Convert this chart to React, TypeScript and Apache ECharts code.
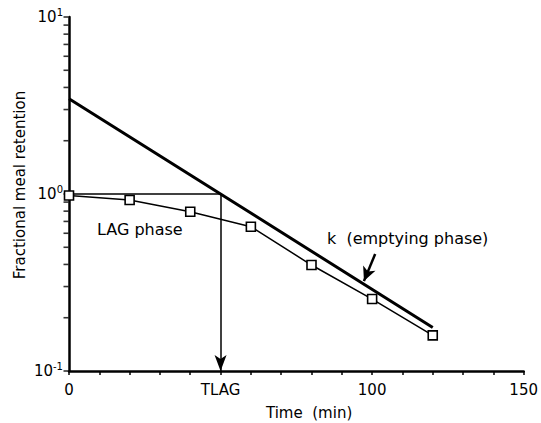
import React, { useEffect, useRef } from "react";
import * as echarts from "echarts";

const timeMin = [0, 20, 40, 60, 80, 100, 120];
const retention = [0.98, 0.925, 0.794, 0.653, 0.397, 0.255, 0.159];
const fitTime = [0, 50, 120];
const fitRetention = [3.45, 1.0, 0.176];
const tlag = 50;
const lagLineTime = [0, tlag];
const lagLineValue = [1, 1];
const xTickValues = [0, 10, 20, 30, 40, 50, 60, 70, 80, 90, 100, 110, 120, 130, 140, 150];
const xLabelValues = [0, 50, 100, 150];
const xLabelTexts = ["0", "TLAG", "100", "150"];
const yTickValues = [
  0.1, 0.2, 0.3, 0.4, 0.5, 0.6, 0.7, 0.8, 0.9,
  1, 2, 3, 4, 5, 6, 7, 8, 9, 10,
];
const yLabelValues = [0.1, 1, 10];
const yLabelExponents = ["-1", "0", "1"];
const kArrowFrom = [101, 0.458];
const kArrowTo = [97.3, 0.322];

const FONT = "DejaVu Sans";

export default function App() {
  const ref = useRef<HTMLDivElement>(null);
  useEffect(() => {
    if (!ref.current) return;
    const chart = echarts.init(ref.current, undefined, { renderer: "svg" });
    chart.setOption({
      animation: false,
      backgroundColor: "#ffffff",
      textStyle: { fontFamily: FONT, color: "#000" },
      grid: { left: 69, right: 14, top: 17, bottom: 52, containLabel: false },
      xAxis: {
        type: "value",
        min: 0,
        max: 150,
        interval: 10,
        axisLine: { show: true, lineStyle: { color: "#000", width: 2.5 } },
        axisTick: {
          show: true,
          inside: false,
          length: 4,
          lineStyle: { color: "#000", width: 1.5 },
          customValues: xTickValues,
        },
        splitLine: { show: false },
        axisLabel: {
          customValues: xLabelValues,
          formatter: (v: number) => {
            const i = xLabelValues.indexOf(v);
            return i >= 0 ? xLabelTexts[i] : "";
          },
          color: "#000",
          fontFamily: FONT,
          fontSize: 15,
          margin: 11,
        },
      },
      yAxis: {
        type: "log",
        logBase: 10,
        min: 0.1,
        max: 10,
        axisLine: { show: true, lineStyle: { color: "#000", width: 2.5 } },
        axisTick: { show: false },
        splitLine: { show: false },
        axisLabel: {
          formatter: (v: number) => {
            let idx = -1;
            yLabelValues.forEach((lv, i) => {
              if (Math.abs(lv - v) / lv < 1e-6) idx = i;
            });
            return idx >= 0 ? `{b|10}{s|${yLabelExponents[idx]}}` : "";
          },
          margin: 6,
          rich: {
            b: { fontSize: 15, fontFamily: FONT, color: "#000" },
            s: { fontSize: 10, fontFamily: FONT, color: "#000", padding: [0, 0, 10, 0] },
          },
        },
      },
      series: [
        {
          type: "scatter",
          data: yTickValues.map((v) => [0, v]),
          symbol: "rect",
          symbolSize: [5, 1.6],
          symbolOffset: [-3, 0],
          itemStyle: { color: "#000" },
          clip: false,
          silent: true,
          z: 1,
        },
        {
          type: "line",
          data: fitTime.map((t, i) => [t, fitRetention[i]]),
          symbol: "none",
          lineStyle: { color: "#000", width: 3 },
          z: 3,
        },
        {
          type: "line",
          data: lagLineTime.map((t, i) => [t, lagLineValue[i]]),
          symbol: "none",
          lineStyle: { color: "#000", width: 1.5 },
          markLine: {
            silent: true,
            symbol: ["none", "arrow"],
            symbolSize: [9, 16],
            label: { show: false },
            lineStyle: { color: "#000", width: 1.5, type: "solid" },
            data: [[{ coord: [tlag, 1] }, { coord: [tlag, 0.1] }]],
          },
          z: 2,
        },
        {
          type: "line",
          data: timeMin.map((t, i) => [t, retention[i]]),
          symbol: "rect",
          symbolSize: 9,
          itemStyle: { color: "#fff", borderColor: "#000", borderWidth: 1.6 },
          lineStyle: { color: "#000", width: 1.5 },
          markLine: {
            silent: true,
            symbol: ["none", "arrow"],
            symbolSize: [10, 14],
            label: { show: false },
            lineStyle: { color: "#000", width: 2.5, type: "solid" },
            data: [[{ coord: kArrowFrom }, { coord: kArrowTo }]],
          },
          z: 4,
        },
      ],
      graphic: [
        {
          type: "text",
          left: 97,
          top: 221,
          style: { text: "LAG phase", font: `16px "${FONT}"`, fill: "#000" },
        },
        {
          type: "text",
          left: 327,
          top: 230,
          style: { text: "k  (emptying phase)", font: `16px "${FONT}"`, fill: "#000" },
        },
        {
          type: "text",
          left: 266,
          top: 405,
          style: { text: "Time  (min)", font: `15px "${FONT}"`, fill: "#000" },
        },
        {
          type: "text",
          x: 20,
          y: 185,
          rotation: Math.PI / 2,
          style: {
            text: "Fractional meal retention",
            font: `15px "${FONT}"`,
            fill: "#000",
            align: "center",
            verticalAlign: "middle",
          },
        },
      ],
    });
    return () => chart.dispose();
  }, []);
  return (
    <div
      ref={ref}
      style={{ position: "absolute", left: 0, top: 0, width: 541, height: 423 }}
    />
  );
}
